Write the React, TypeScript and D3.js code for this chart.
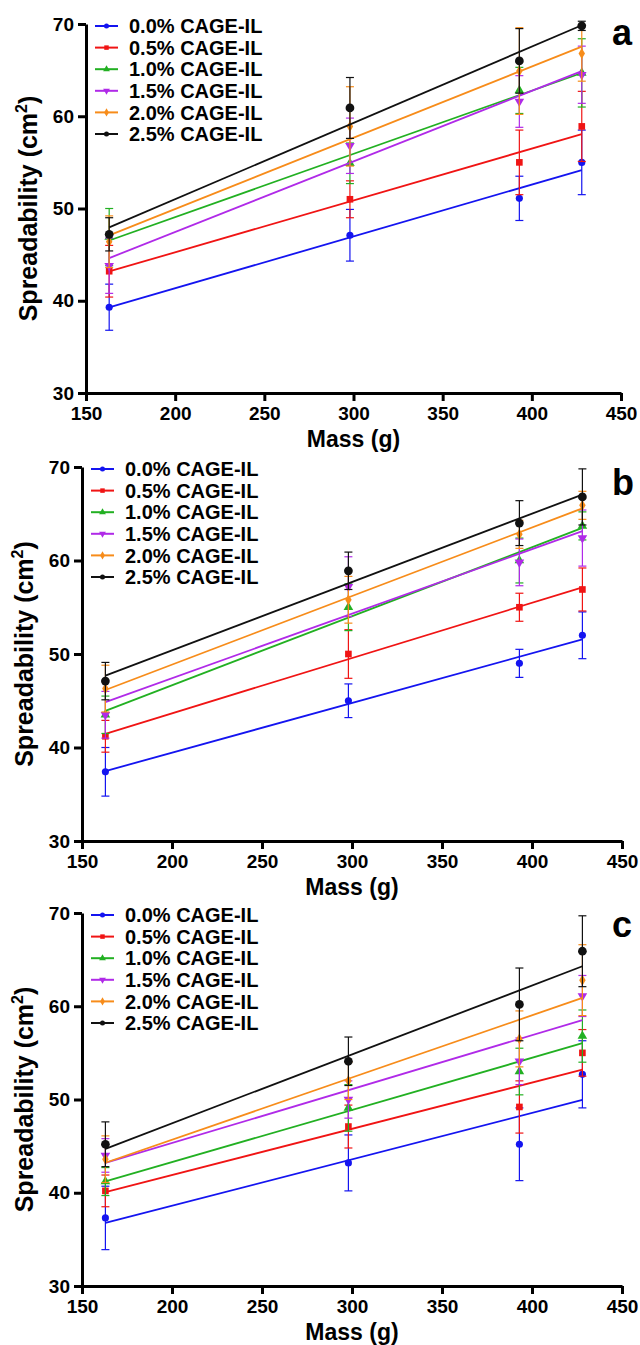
import { useEffect, useRef } from 'react';
import * as d3 from 'd3';

const masses = [163, 298, 393, 428];
const seriesNames = ['0.0% CAGE-IL', '0.5% CAGE-IL', '1.0% CAGE-IL', '1.5% CAGE-IL', '2.0% CAGE-IL', '2.5% CAGE-IL'];
const xTicks = [150, 200, 250, 300, 350, 400, 450];
const yTicks = [30, 40, 50, 60, 70];
const panelLabels = ['a', 'b', 'c'];

// rows follow seriesNames, columns follow masses
const meansA = [
  [39.3, 47.1, 51.1, 55.0],
  [43.2, 51.0, 55.0, 58.9],
  [46.9, 54.9, 62.8, 64.7],
  [43.8, 56.8, 61.6, 64.5],
  [46.4, 58.9, 64.9, 66.8],
  [47.2, 60.9, 66.0, 69.8],
];
const sdA = [
  [2.5, 2.8, 2.4, 3.5],
  [2.8, 2.0, 3.5, 3.8],
  [3.1, 2.2, 2.5, 3.7],
  [3.0, 3.0, 2.8, 3.1],
  [2.8, 4.3, 4.7, 3.0],
  [1.8, 3.3, 3.5, 0.5],
];

const meansB = [
  [37.4, 45.0, 49.0, 52.0],
  [41.2, 50.0, 55.0, 56.9],
  [43.5, 55.0, 60.0, 63.7],
  [43.5, 57.2, 59.8, 62.4],
  [46.3, 55.8, 62.8, 65.9],
  [47.1, 58.9, 64.0, 66.8],
];
const sdB = [
  [2.6, 1.8, 1.5, 2.5],
  [1.7, 2.6, 1.5, 2.3],
  [2.0, 2.5, 2.4, 1.5],
  [2.5, 3.2, 2.5, 3.0],
  [2.5, 2.5, 1.5, 1.5],
  [2.0, 2.0, 2.4, 3.0],
];

const meansC = [
  [37.3, 43.2, 45.2, 52.7],
  [40.2, 47.1, 49.2, 55.0],
  [41.2, 49.1, 53.0, 56.8],
  [44.0, 50.0, 54.1, 61.1],
  [43.6, 52.0, 56.5, 62.8],
  [45.2, 54.1, 60.2, 65.9],
];
const sdC = [
  [3.4, 3.0, 3.9, 3.6],
  [1.7, 2.3, 2.8, 2.5],
  [1.5, 2.5, 2.5, 2.8],
  [1.8, 2.0, 2.5, 2.2],
  [2.5, 2.0, 3.0, 3.8],
  [2.4, 2.6, 3.9, 3.8],
];

const panelMeans = [meansA, meansB, meansC];
const panelSds = [sdA, sdB, sdC];

const colors = ['#1414f0', '#f01414', '#22b022', '#b02ae8', '#f78c1a', '#111111'];
const symbols = [d3.symbolCircle, d3.symbolSquare, d3.symbolTriangle, d3.symbolTriangle, d3.symbolDiamond, d3.symbolCircle];
const symbolSizes = [40, 44, 40, 40, 36, 60];

const layouts = [
  { left: 86, right: 621, top: 24, bottom: 393, labelY: 45 },
  { left: 82, right: 622, top: 467, bottom: 841, labelY: 495 },
  { left: 82, right: 622, top: 913, bottom: 1286, labelY: 937 },
];

const FONT = '"Liberation Sans", Arial, sans-serif';

// least squares line through the points of one series
function fit(xs: number[], ys: number[]) {
  const mx = d3.mean(xs) as number;
  const my = d3.mean(ys) as number;
  let sxy = 0;
  let sxx = 0;
  xs.forEach((x, i) => {
    sxy += (x - mx) * (ys[i] - my);
    sxx += (x - mx) * (x - mx);
  });
  const slope = sxy / sxx;
  return (x: number) => my + slope * (x - mx);
}

const App = () => {
  const ref = useRef<SVGSVGElement>(null);

  useEffect(() => {
    const svg = d3.select(ref.current);
    svg.selectAll('*').remove();

    layouts.forEach((lay, p) => {
      const means = panelMeans[p];
      const sds = panelSds[p];

      const x = d3.scaleLinear().domain([150, 450]).range([lay.left, lay.right]);
      const y = d3.scaleLinear().domain([30, 70]).range([lay.bottom, lay.top]);

      const g = svg.append('g');

      // axes
      const xAxis = g.append('g')
        .attr('transform', `translate(0,${lay.bottom})`)
        .call(d3.axisBottom(x).tickValues(xTicks).tickSize(8).tickSizeOuter(0).tickPadding(6).tickFormat(d3.format('d')));
      const yAxis = g.append('g')
        .attr('transform', `translate(${lay.left},0)`)
        .call(d3.axisLeft(y).tickValues(yTicks).tickSize(8).tickSizeOuter(0).tickPadding(4).tickFormat(d3.format('d')));

      [xAxis, yAxis].forEach(a => {
        a.select('.domain').attr('stroke', '#000').attr('stroke-width', 3);
        a.selectAll('.tick line').attr('stroke', '#000').attr('stroke-width', 3);
        a.selectAll('.tick text')
          .attr('fill', '#000')
          .style('font-family', FONT)
          .style('font-size', '19px')
          .style('font-weight', 'bold');
      });

      // axis titles
      g.append('text')
        .attr('x', (lay.left + lay.right) / 2)
        .attr('y', lay.bottom + 54)
        .attr('text-anchor', 'middle')
        .style('font-family', FONT)
        .style('font-size', '23px')
        .style('font-weight', 'bold')
        .text('Mass (g)');

      const yt = g.append('text')
        .attr('transform', `translate(${lay.left - 49},${(lay.top + lay.bottom) / 2}) rotate(-90)`)
        .attr('text-anchor', 'middle')
        .style('font-family', FONT)
        .style('font-size', '25px')
        .style('font-weight', 'bold');
      yt.append('tspan').text('Spreadability (cm');
      yt.append('tspan').attr('dy', -10).style('font-size', '16px').text('2');
      yt.append('tspan').attr('dy', 10).text(')');

      // panel letter
      g.append('text')
        .attr('x', 612)
        .attr('y', lay.labelY)
        .style('font-family', FONT)
        .style('font-size', '36px')
        .style('font-weight', 'bold')
        .text(panelLabels[p]);

      // series
      means.forEach((vals, s) => {
        const color = colors[s];
        const sg = g.append('g');
        const line = fit(masses, vals);

        // error bars
        vals.forEach((v, i) => {
          const cx = x(masses[i]);
          const lo = y(v - sds[s][i]);
          const hi = y(v + sds[s][i]);
          sg.append('line').attr('x1', cx).attr('x2', cx).attr('y1', lo).attr('y2', hi)
            .attr('stroke', color).attr('stroke-width', 1.2);
          [lo, hi].forEach(yy => {
            sg.append('line').attr('x1', cx - 4).attr('x2', cx + 4).attr('y1', yy).attr('y2', yy)
              .attr('stroke', color).attr('stroke-width', 1.2);
          });
        });

        // fitted line
        const first = masses[0];
        const last = masses[masses.length - 1];
        sg.append('line')
          .attr('x1', x(first)).attr('y1', y(line(first)))
          .attr('x2', x(last)).attr('y2', y(line(last)))
          .attr('stroke', color)
          .attr('stroke-width', 1.8);

        // points
        const sym = d3.symbol().type(symbols[s]).size(symbolSizes[s]);
        vals.forEach((v, i) => {
          sg.append('path')
            .attr('d', sym() as string)
            .attr('transform', `translate(${x(masses[i])},${y(v)})${s === 3 ? ' rotate(180)' : ''}`)
            .attr('fill', color);
        });
      });

      // legend
      const lg = g.append('g');
      seriesNames.forEach((name, s) => {
        const ly = lay.top + 2 + s * 21.6;
        lg.append('line')
          .attr('x1', lay.left + 9).attr('x2', lay.left + 32)
          .attr('y1', ly).attr('y2', ly)
          .attr('stroke', colors[s]).attr('stroke-width', 2);
        lg.append('path')
          .attr('d', d3.symbol().type(symbols[s]).size(20)() as string)
          .attr('transform', `translate(${lay.left + 20.5},${ly})${s === 3 ? ' rotate(180)' : ''}`)
          .attr('fill', colors[s]);
        lg.append('text')
          .attr('x', lay.left + 43)
          .attr('y', ly)
          .attr('dy', '0.36em')
          .style('font-family', FONT)
          .style('font-size', '20px')
          .style('font-weight', 'bold')
          .text(name);
      });
    });
  }, []);

  return (
    <svg
      ref={ref}
      width={640}
      height={1345}
      style={{ position: 'absolute', left: 0, top: 0, background: '#fff' }}
    />
  );
};

export default App;
